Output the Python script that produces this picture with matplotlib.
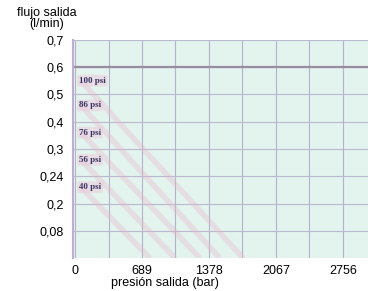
import numpy as np
import matplotlib
matplotlib.use("Agg")
from matplotlib import pyplot as plt

# eje y: niveles de flujo (espaciado uniforme en el grafico original)
flow_ticks = [0, 0.08, 0.2, 0.24, 0.3, 0.4, 0.5, 0.6, 0.7]
flow_labels = ["", "0,08", "0,2", "0,24", "0,3", "0,4", "0,5", "0,6", "0,7"]

# eje x: presion de salida (bar)
press_ticks = [0, 689, 1378, 2067, 2756]
press_labels = ["0", "689", "1378", "2067", "2756"]

# curvas por presion de aire
psi_names = ["100 psi", "86 psi", "76 psi", "56 psi", "40 psi"]
flow_start = [0.55, 0.46, 0.36, 0.276, 0.224]
press_end = [1730, 1490, 1285, 1030, 770]

max_flow_line = 0.6

idx = np.arange(len(flow_ticks), dtype=float)


def fwd(v):
    return np.interp(v, flow_ticks, idx, left=-1, right=9)


def inv(p):
    return np.interp(p, idx, flow_ticks)


plt.rcParams['font.family'] = ['Liberation Sans', 'DejaVu Sans']

fig = plt.figure(figsize=(3.73, 2.91), dpi=100)
ax = fig.add_axes([0.196, 0.113, 0.79, 0.75])
ax.set_facecolor('#e3f3ee')
ax.set_yscale('function', functions=(fwd, inv))

# cuadricula
for p in np.arange(0, 3100, 344.5):
    ax.axvline(p, color='#b4b2cb', lw=0.8, zorder=1)
for f in flow_ticks[1:]:
    ax.axhline(f, color='#bbb9cf', lw=0.8, zorder=1)
ax.axhline(max_flow_line, color='#978ca2', lw=1.6, zorder=2)

# curvas (rosadas, difusas)
for fs, pe in zip(flow_start, press_end):
    ax.plot([60, pe], [fs, 0.0], color='#e6b5c9', lw=4, alpha=0.35,
            solid_capstyle='butt', zorder=2)

for name, fs in zip(psi_names, flow_start):
    ax.text(40, fs, name, fontsize=6.5, family=['Liberation Serif', 'DejaVu Serif'],
            color='#3a3266', va='center', ha='left', zorder=4, weight='bold',
            bbox=dict(boxstyle='round,pad=0.2', fc='#ecc9da', ec='none', alpha=0.5))

ax.set_xlim(-20, 3013)
ax.set_ylim(0, inv(8.15))
ax.set_xticks(press_ticks)
ax.set_xticklabels(press_labels, fontsize=9)
ax.set_yticks(flow_ticks)
ax.set_yticklabels(flow_labels, fontsize=9)
ax.yaxis.set_minor_locator(matplotlib.ticker.NullLocator())
ax.tick_params(length=0, pad=7)
ax.tick_params(axis='x', pad=5)
for s in ['top', 'right', 'bottom']:
    ax.spines[s].set_visible(False)
ax.spines['left'].set_color('#c0aed0')
ax.spines['left'].set_linewidth(1.5)

ax.set_xlabel('presión salida (bar)', fontsize=9, labelpad=0)
ax.xaxis.set_label_coords(0.31, -0.085)
fig.text(0.125, 0.975, 'flujo salida\n(l/min)', fontsize=9, ha='center', va='top',
         linespacing=0.85)

fig.savefig('out.png', dpi=100)
